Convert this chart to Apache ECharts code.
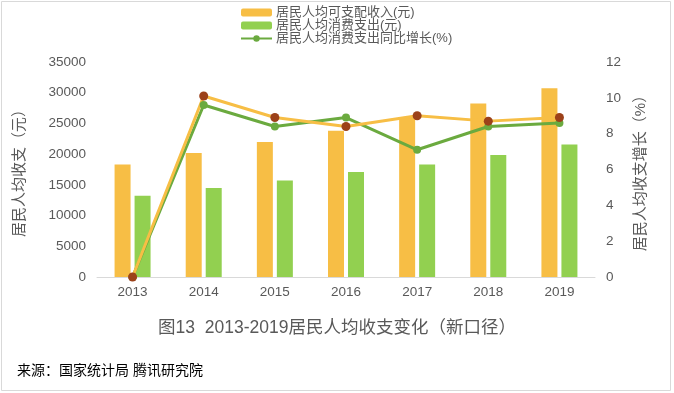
<!DOCTYPE html>
<html><head><meta charset="utf-8">
<script src="https://cdn.jsdelivr.net/npm/echarts@6/dist/echarts.min.js"></script>
<style>html,body{margin:0;padding:0;background:#fff}#c{width:674px;height:393px}</style>
</head><body><div id="c"></div>
<script>
const years = ['2013','2014','2015','2016','2017','2018','2019'];
const income = [18311, 20167, 21966, 23821, 25974, 28228, 30733];
const consumption = [13220, 14491, 15712, 17111, 18322, 19853, 21559];
const consumptionGrowth = [0, 9.6, 8.4, 8.9, 7.1, 8.4, 8.6];
const incomeGrowth = [0, 10.1, 8.9, 8.4, 9.0, 8.7, 8.9];
const names = ['居民人均可支配收入(元)', '居民人均消费支出(元)', '居民人均消费支出同比增长(%)', '居民人均可支配收入同比增长(%)'];

const FF = '"Liberation Sans", "Noto Sans CJK SC", sans-serif';
const chart = echarts.init(document.getElementById('c'));
chart.setOption({
  animation: false,
  textStyle: {fontFamily: FF},
  title: {
    text: '图13  2013-2019居民人均收支变化（新口径）',
    left: 'center', top: 314,
    textStyle: {fontFamily: FF, fontSize: 17.5, fontWeight: 'normal', color: '#595959'}
  },
  legend: {
    data: names.slice(0, 3),
    orient: 'vertical', left: 235, top: 1,
    itemWidth: 31, itemHeight: 8, itemGap: 0,
    textStyle: {fontFamily: FF, fontSize: 13, color: '#595959', padding: [0, 0, 0, -1]}
  },
  grid: {left: 97, right: 79, top: 62, bottom: 116, containLabel: false},
  xAxis: {
    type: 'category', data: years,
    axisLine: {lineStyle: {color: '#d9d9d9', width: 1}},
    axisTick: {show: false},
    axisLabel: {fontSize: 13.5, color: '#595959', margin: 9}
  },
  yAxis: [{
    type: 'value', min: 0, max: 35000, interval: 5000,
    name: '居民人均收支（元）', nameLocation: 'middle', nameGap: 70,
    nameTextStyle: {fontSize: 15, color: '#595959'},
    axisLine: {show: false}, axisTick: {show: false}, splitLine: {show: false},
    axisLabel: {fontSize: 13.5, color: '#595959', margin: 11, formatter: v => String(v)}
  }, {
    type: 'value', min: 0, max: 12, interval: 2,
    name: '居民人均收支增长（%）', nameLocation: 'middle', nameGap: 38, nameRotate: 90,
    nameTextStyle: {fontSize: 15, color: '#595959'},
    axisLine: {show: false}, axisTick: {show: false}, splitLine: {show: false},
    axisLabel: {fontSize: 13.5, color: '#595959', margin: 11}
  }],
  series: [
    {name: names[0], type: 'bar', data: income, barWidth: 16, barGap: '25%',
     itemStyle: {color: '#F7BE45'}},
    {name: names[1], type: 'bar', data: consumption, barWidth: 16,
     itemStyle: {color: '#92D050'}},
    {name: names[2], type: 'line', yAxisIndex: 1, data: consumptionGrowth,
     symbol: 'circle', symbolSize: 8,
     lineStyle: {color: '#6BAA3F', width: 3}, itemStyle: {color: '#6BAA3F'}},
    {name: names[3], type: 'line', yAxisIndex: 1, data: incomeGrowth,
     symbol: 'circle', symbolSize: 9,
     lineStyle: {color: '#F7BE45', width: 3}, itemStyle: {color: '#9C4119'}}
  ],
  graphic: [
    {type: 'rect', shape: {x: 1.5, y: 1.5, width: 669, height: 389},
     style: {fill: 'none', stroke: '#d9d9d9', lineWidth: 1}, z: -1},
    {type: 'text', left: 17, top: 364,
     style: {text: '来源：国家统计局 腾讯研究院', font: '14px ' + FF, fill: '#000'}}
  ]
});
</script></body></html>
